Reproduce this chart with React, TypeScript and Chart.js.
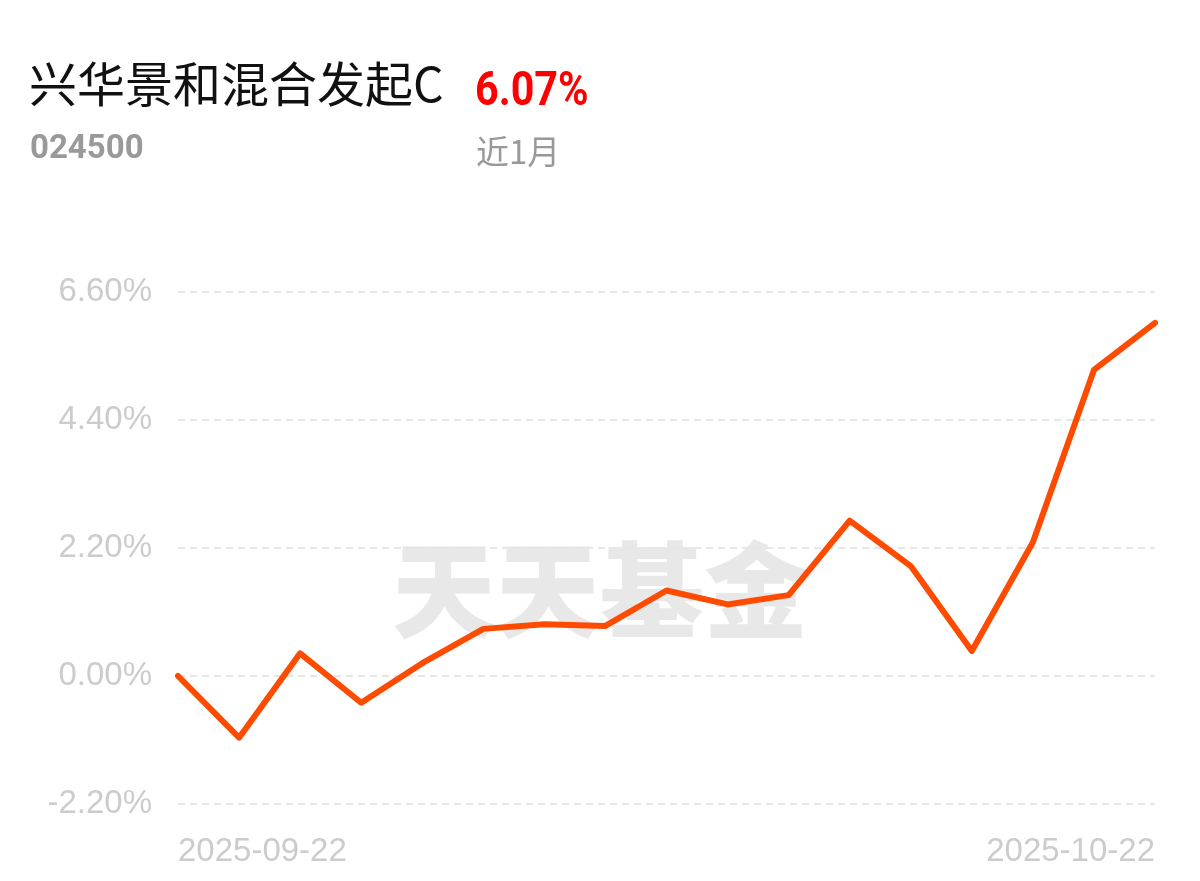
import React, { useEffect, useRef } from "react";
import { Chart, registerables } from "chart.js";

Chart.register(...registerables);

const fundName = "兴华景和混合发起C";
const fundCode = "024500";
const periodReturn = "6.07%";
const periodLabel = "近1月";
const watermark = "天天基金";

const dates = [
  "2025-09-22", "2025-09-23", "2025-09-24", "2025-09-25", "2025-09-26",
  "2025-09-29", "2025-09-30", "2025-10-09", "2025-10-10", "2025-10-13",
  "2025-10-14", "2025-10-15", "2025-10-16", "2025-10-17", "2025-10-20",
  "2025-10-21", "2025-10-22",
];
const returns = [
  0.0, -1.06, 0.39, -0.46, 0.22, 0.81, 0.89, 0.86, 1.47, 1.23,
  1.39, 2.67, 1.89, 0.43, 2.3, 5.26, 6.07,
];
const yTicks = [-2.2, 0, 2.2, 4.4, 6.6];

const headerPlugin = {
  id: "header",
  beforeDraw(chart: any) {
    const ctx = chart.ctx;
    ctx.save();
    ctx.fillStyle = "#e8e8e8";
    ctx.font = "900 104px 'Noto Sans CJK SC'";
    ctx.textAlign = "center";
    ctx.textBaseline = "middle";
    ctx.fillText(watermark, 600, 590);
    ctx.restore();
  },
  afterDraw(chart: any) {
    const ctx = chart.ctx;
    ctx.save();
    ctx.textAlign = "left";
    ctx.textBaseline = "alphabetic";
    ctx.fillStyle = "#111111";
    ctx.font = "400 48px 'Noto Sans CJK SC'";
    ctx.fillText(fundName, 29, 102);

    ctx.save();
    ctx.translate(475, 105);
    ctx.scale(0.86, 1);
    ctx.fillStyle = "#ff0000";
    ctx.font = "700 48px Roboto";
    ctx.fillText(periodReturn, 0, 0);
    ctx.restore();

    ctx.fillStyle = "#999999";
    ctx.font = "700 33px Roboto";
    ctx.fillText(fundCode, 30, 158);

    ctx.font = "400 33px 'Noto Sans CJK SC'";
    ctx.fillText(periodLabel, 476, 164);
    ctx.restore();
  },
};

export default function App() {
  const ref = useRef<HTMLCanvasElement>(null);
  useEffect(() => {
    const chart = new Chart(ref.current as HTMLCanvasElement, {
      type: "line",
      data: {
        labels: dates,
        datasets: [
          {
            data: returns,
            borderColor: "#ff4b00",
            borderWidth: 6,
            pointRadius: 0,
            tension: 0,
            borderCapStyle: "round",
            borderJoinStyle: "round",
            fill: false,
          },
        ],
      },
      options: {
        animation: false,
        responsive: false,
        maintainAspectRatio: false,
        layout: { padding: { top: 292, right: 45, left: 0, bottom: 0 } },
        plugins: { legend: { display: false }, tooltip: { enabled: false } },
        scales: {
          x: {
            offset: false,
            border: { display: false },
            grid: { display: false, drawTicks: false },
            ticks: {
              autoSkip: false,
              maxRotation: 0,
              align: "inner",
              padding: 28,
              color: "#cccccc",
              font: { family: "'Liberation Sans'", size: 33 },
              callback: (_v: any, i: number) =>
                i === 0 || i === dates.length - 1 ? dates[i] : "",
            },
            afterFit: (s: any) => {
              s.height = 77;
            },
          },
          y: {
            min: yTicks[0],
            max: yTicks[yTicks.length - 1],
            border: { display: false, dash: [7, 5] },
            grid: {
              color: "#e6e6e6",
              lineWidth: 2,
              drawTicks: false,
            },
            ticks: {
              padding: 26,
              color: "#cccccc",
              font: { family: "'Liberation Sans'", size: 33 },
              callback: (v: any) => Number(v).toFixed(2) + "%",
            },
            afterBuildTicks: (s: any) => {
              s.ticks = yTicks.map((v) => ({ value: v }));
            },
            afterFit: (s: any) => {
              s.width = 178;
            },
          },
        },
      },
      plugins: [headerPlugin],
    } as any);
    return () => chart.destroy();
  }, []);
  return (
    <div style={{ position: "fixed", left: 0, top: 0, width: 1200, height: 881, background: "#fff" }}>
      <canvas ref={ref} width={1200} height={881} style={{ width: 1200, height: 881 }} />
    </div>
  );
}
